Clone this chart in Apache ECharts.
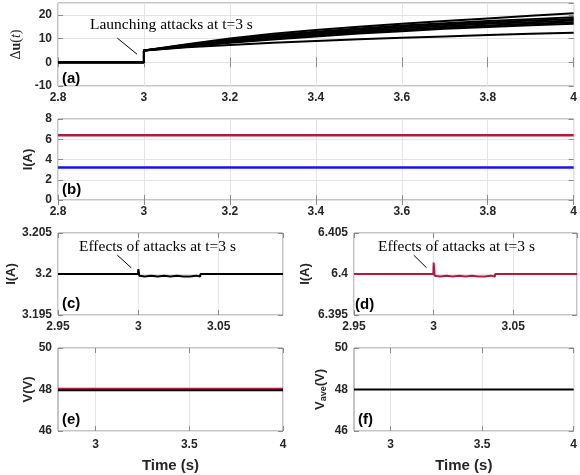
<!DOCTYPE html>
<html><head><meta charset="utf-8">
<script src="https://cdn.jsdelivr.net/npm/echarts@6/dist/echarts.min.js"></script>
<style>html,body{margin:0;padding:0;background:#fff}#c{width:580px;height:475px}</style>
</head><body><div id="c"></div>
<script>
// ---------- data ----------
// (a) control input deviation, time axis (s)
const tA = [2.8, 3.0, 3.0, 3.1, 3.2, 3.3, 3.4, 3.5, 3.6, 3.7, 3.8, 3.9, 4.0];
const duTop = [0, 0, 5, 7.6, 10.0, 12.0, 13.6, 15.0, 16.3, 17.4, 18.5, 19.6, 20.7];
const duB1  = [0, 0, 5, 7.4, 9.6, 11.4, 12.9, 14.3, 15.5, 16.5, 17.4, 18.2, 19.0];
const duB2  = [0, 0, 5, 7.2, 9.2, 10.9, 12.4, 13.7, 14.9, 15.9, 16.8, 17.6, 18.3];
const duB3  = [0, 0, 5, 7.0, 8.8, 10.4, 11.9, 13.1, 14.3, 15.3, 16.2, 16.9, 17.6];
const duB4  = [0, 0, 5, 6.8, 8.5, 10.0, 11.4, 12.6, 13.7, 14.7, 15.5, 16.2, 16.9];
const duB5  = [0, 0, 5, 6.6, 8.2, 9.6, 10.9, 12.1, 13.1, 14.1, 14.9, 15.6, 16.2];
const duLow = [0, 0, 5, 6.3, 7.3, 8.2, 9.0, 9.7, 10.3, 10.9, 11.5, 12.0, 12.5];
// (b) currents
const tB = [2.8, 4.0];
const iRedB = [6.4, 6.4];
const iBlueB = [3.2, 3.2];
// (c) zoomed current 3.2 A
const tC = [2.95, 2.9998, 3.0, 3.0003, 3.0006, 3.004, 3.008, 3.012, 3.016, 3.020, 3.024, 3.028, 3.032, 3.036, 3.0385, 3.0386, 3.09];
const iC = [3.2, 3.2, 3.2006, 3.2006, 3.1998, 3.1997, 3.1998, 3.1997, 3.1998, 3.1997, 3.1998, 3.1997, 3.1997, 3.1998, 3.1997, 3.2, 3.2];
// (d) zoomed current 6.4 A
const tD = [2.95, 2.9998, 3.0, 3.0003, 3.0006, 3.004, 3.008, 3.012, 3.016, 3.020, 3.024, 3.028, 3.032, 3.036, 3.0385, 3.0386, 3.09];
const iD = [6.4, 6.4, 6.4014, 6.4014, 6.3998, 6.3997, 6.3998, 6.3997, 6.3998, 6.3997, 6.3998, 6.3997, 6.3997, 6.3998, 6.3997, 6.4, 6.4];
// (e) voltages, (f) average voltage
const tE = [2.8, 4.0];
const vRedE = [48.04, 48.04];
const vBlackE = [47.96, 47.96];
const vAveF = [48, 48];
// tick labels
const ticksEF = [3, 3.5, 4];

// ---------- styling ----------
const RED = '#b41a3c', BLUE = '#1414f0', BLACK = '#000';
const BORDER = '#8a8a8a', GRIDC = '#e4e4e4', LBL = '#262626';
const SANS = '"Liberation Sans", Arial, Helvetica, sans-serif';
const SERIF = '"Liberation Serif", "Times New Roman", serif';

const grids = [
  {left: 58, top: 3, width: 520, height: 83},
  {left: 58, top: 119, width: 520, height: 81},
  {left: 58, top: 233, width: 225, height: 82},
  {left: 354, top: 233, width: 223, height: 82},
  {left: 58, top: 348, width: 225, height: 83},
  {left: 354, top: 348, width: 223, height: 83}
].map(g => Object.assign({show: true, borderColor: BORDER, borderWidth: 1, backgroundColor: '#fff', containLabel: false}, g));

const pairs = (xs, ys) => xs.map((x, i) => [x, ys[i]]);
const tickStyle = {show: true, inside: true, length: 5, lineStyle: {color: BORDER}};
const labelStyle = {color: LBL, fontFamily: SANS, fontWeight: 'bold', fontSize: 12};

const xAxes = [], yAxes = [];
function addX(gi, min, max, interval, extra) {
  const main = Object.assign({
    type: 'value', gridIndex: gi, min, max, interval, position: 'bottom',
    axisLine: {show: false}, axisTick: tickStyle,
    axisLabel: Object.assign({margin: 6, showMaxLabel: Math.abs(max / interval - Math.round(max / interval)) < 1e-6}, labelStyle),
    splitLine: {show: true, lineStyle: {color: GRIDC, width: 1}}
  }, extra || {});
  xAxes.push(main);
  const top = Object.assign({}, main, {position: 'top', axisLabel: {show: false}, splitLine: {show: false}, name: ''});
  xAxes.push(top);
}
function addY(gi, min, max, interval, extra) {
  const main = Object.assign({
    type: 'value', gridIndex: gi, min, max, interval, position: 'left',
    axisLine: {show: false}, axisTick: tickStyle,
    axisLabel: Object.assign({margin: 6, showMaxLabel: Math.abs(((max - min) / interval) - Math.round((max - min) / interval)) < 1e-6}, labelStyle),
    splitLine: {show: true, lineStyle: {color: GRIDC, width: 1}},
    nameLocation: 'middle'
  }, extra || {});
  yAxes.push(main);
  const right = Object.assign({}, main, {position: 'right', axisLabel: {show: false}, splitLine: {show: false}, name: ''});
  yAxes.push(right);
}

// (a)
addX(0, 2.8, 4.0, 0.2);
addY(0, -10, 25, 10, {
  name: '{d|Δ}{u|u}{p|(}{t|t}{p|)}', nameGap: 24,
  nameTextStyle: {fontFamily: SERIF, fontSize: 14, color: LBL,
    rich: {d: {fontFamily: SERIF, fontSize: 14, color: LBL}, u: {fontFamily: SERIF, fontSize: 14, fontWeight: 'bold', color: LBL},
           p: {fontFamily: SERIF, fontSize: 14, color: LBL}, t: {fontFamily: SERIF, fontSize: 14, fontStyle: 'italic', color: LBL}}}
});
// (b)
addX(1, 2.8, 4.0, 0.2);
addY(1, 0, 8, 2, {name: 'I(A)', nameGap: 13, nameTextStyle: {fontFamily: SANS, fontWeight: 'bold', fontSize: 13, color: LBL}});
// (c)
addX(2, 2.95, 3.09, 0.05, {});
xAxes[4].axisLabel.showMaxLabel = false;
addY(2, 3.195, 3.205, 0.005, {name: 'I(A)', nameGap: 37, nameTextStyle: {fontFamily: SANS, fontWeight: 'bold', fontSize: 13, color: LBL}});
// (d)
addX(3, 2.95, 3.09, 0.05, {});
xAxes[6].axisLabel.showMaxLabel = false;
addY(3, 6.395, 6.405, 0.005, {name: 'I(A)', nameGap: 42, nameTextStyle: {fontFamily: SANS, fontWeight: 'bold', fontSize: 13, color: LBL}});
// (e)
const efX = {
  axisTick: Object.assign({}, tickStyle, {customValues: ticksEF}),
  axisLabel: Object.assign({margin: 8, customValues: ticksEF}, labelStyle),
  name: 'Time (s)', nameLocation: 'middle', nameGap: 27,
  nameTextStyle: {fontFamily: SANS, fontWeight: 'bold', fontSize: 15, color: LBL}
};
addX(4, 2.8, 4.0, 0.2, efX);
addY(4, 46, 50, 2, {name: 'V(V)', nameGap: 21, nameTextStyle: {fontFamily: SANS, fontWeight: 'bold', fontSize: 13, color: LBL}});
// (f)
addX(5, 2.8, 4.0, 0.2, efX);
addY(5, 46, 50, 2, {
  name: '{v|V}{s|ave}{v|(V)}', nameGap: 26,
  nameTextStyle: {fontFamily: SANS, fontWeight: 'bold', fontSize: 13, color: LBL,
    rich: {v: {fontFamily: SANS, fontWeight: 'bold', fontSize: 13, color: LBL, lineHeight: 16},
           s: {fontFamily: SANS, fontWeight: 'bold', fontSize: 9, color: LBL, padding: [7, 0, 0, 0], lineHeight: 16}}}
});

const lineS = (gi, data, color, width, extra) => Object.assign({
  type: 'line', xAxisIndex: 2 * gi, yAxisIndex: 2 * gi, data, showSymbol: false, symbol: 'none',
  lineStyle: {color, width}, itemStyle: {color}, animation: false, silent: true, z: 3
}, extra || {});

const arrowML = (from, to) => ({
  silent: true, animation: false, symbol: ['none', 'arrow'], symbolSize: [0, 10],
  lineStyle: {color: BLACK, width: 1, type: 'solid'}, itemStyle: {color: BLACK}, label: {show: false},
  data: [[{coord: from}, {coord: to}]]
});

const series = [
  lineS(0, pairs(tA, duLow), BLACK, 2),
  lineS(0, pairs(tA, duB5), BLACK, 2),
  lineS(0, pairs(tA, duB4), BLACK, 2),
  lineS(0, pairs(tA, duB3), BLACK, 2),
  lineS(0, pairs(tA, duB2), BLACK, 2),
  lineS(0, pairs(tA, duB1), BLACK, 2),
  lineS(0, pairs(tA, duTop), BLACK, 2, {markLine: arrowML([2.938, 10.2], [2.984, 3.4])}),
  lineS(1, pairs(tB, iRedB), RED, 2.5),
  lineS(1, pairs(tB, iBlueB), BLUE, 2.5),
  lineS(2, pairs(tC, iC), BLACK, 2, {markLine: arrowML([2.9869, 3.2023], [2.9956, 3.20075])}),
  lineS(3, pairs(tD, iD), RED, 2, {markLine: arrowML([2.9875, 6.4023], [2.9956, 6.40075])}),
  lineS(4, pairs(tE, vRedE), RED, 2),
  lineS(4, pairs(tE, vBlackE), BLACK, 2),
  lineS(5, pairs(tE, vAveF), BLACK, 2)
];

const txt = (x, y, text, font, size, weight, extra) => Object.assign({
  type: 'text', left: x, top: y, z: 100, silent: true,
  style: {text, fill: '#000', font: (weight || 'normal') + ' ' + size + 'px ' + font, textVerticalAlign: 'middle'}
}, extra || {});

const graphic = [
  txt(90, 17, 'Launching attacks at t=3 s', SERIF, 15.5),
  txt(79, 239, 'Effects of attacks at t=3 s', SERIF, 15.5),
  txt(378, 239, 'Effects of attacks at t=3 s', SERIF, 15.5),
  txt(62, 71, '(a)', SANS, 15, 'bold'),
  txt(62, 182, '(b)', SANS, 15, 'bold'),
  txt(62, 296, '(c)', SANS, 15, 'bold'),
  txt(355, 297, '(d)', SANS, 15, 'bold'),
  txt(62, 412, '(e)', SANS, 15, 'bold'),
  txt(358, 412, '(f)', SANS, 15, 'bold')
];

const chart = echarts.init(document.getElementById('c'), null, {renderer: 'canvas'});
chart.setOption({
  animation: false,
  backgroundColor: '#fff',
  grid: grids, xAxis: xAxes, yAxis: yAxes, series, graphic
});
</script></body></html>
